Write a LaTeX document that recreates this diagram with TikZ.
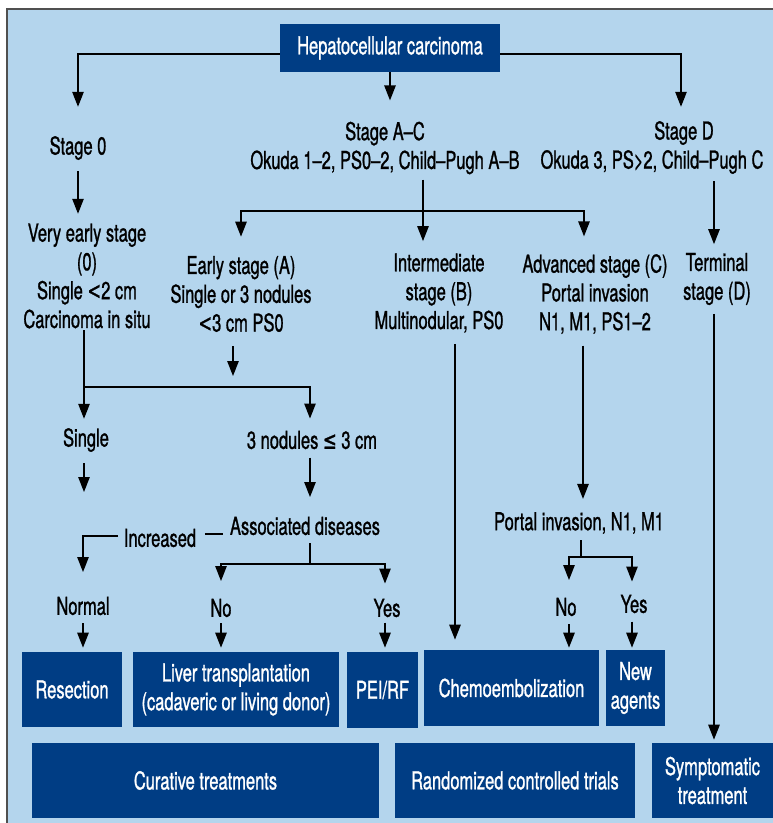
\documentclass[tikz,border=0pt]{standalone}
\usepackage{fontspec}
\setmainfont[FakeStretch=0.67,FakeBold=1]{TeX Gyre Heros}
\newfontfamily\symfont[FakeStretch=0.67,FakeBold=1]{DejaVu Sans}
\usetikzlibrary{arrows.meta}
\definecolor{panelblue}{RGB}{180,213,237}
\definecolor{boxblue}{RGB}{0,61,132}
\definecolor{framegray}{RGB}{80,80,80}
\begin{document}
\begin{tikzpicture}[x=0.02cm, y=-0.02cm, font=\fontsize{14}{16.4}\selectfont,
    lbl/.style={inner sep=0pt, align=center},
    box/.style={fill=boxblue, text=white, inner sep=0pt, align=center},
    arr/.style={line width=0.75pt, -{Triangle[width=6.5pt,length=8.5pt]}},
    link/.style={line width=0.75pt}]
    \useasboundingbox (0,0) rectangle (773,823);
    \fill[panelblue] (7,9) rectangle (773,823);
    \draw[framegray, line width=1.2pt] (7,823) -- (7,9) -- (773,9);

    \node[box, minimum width=4.4cm, minimum height=0.96cm] (hcc) at (390,48) {Hepatocellular carcinoma};
    \node[lbl] (stage0) at (78,148) {Stage 0};
    \node[lbl] (stageac) at (385,148) {Stage A–C\\Okuda 1–2, PS0–2, Child–Pugh A–B};
    \node[lbl] (stageD) at (684,133) {Stage D};
    \node[lbl] (stageDinfo) at (652,162) {Okuda 3, PS>2, Child–Pugh C};
    \node[lbl] (vearly) at (87,276) {Very early stage\\(0)\\Single {\symfont <}2 cm\\Carcinoma in situ};
    \node[lbl] (early) at (241,294) {Early stage (A)\\Single or 3 nodules\\{\symfont <}3 cm PS0};
    \node[lbl] (interm) at (439,293) {Intermediate\\stage (B)\\Multinodular, PS0};
    \node[lbl] (adv) at (595,294) {Advanced stage (C)\\Portal invasion\\N1, M1, PS1–2};
    \node[lbl] (term) at (717,279) {Terminal\\stage (D)};
    \node[lbl] (single) at (86,440) {Single};
    \node[lbl] (three) at (312,440) {3 nodules {\symfont ≤} 3 cm};
    \node[lbl] (assoc) at (305,526) {Associated diseases};
    \node[lbl] (incr) at (160,538) {Increased};
    \node[lbl] (normal) at (83,606) {Normal};
    \node[lbl] (no1) at (221,608) {No};
    \node[lbl] (yes1) at (387,608) {Yes};
    \node[lbl] (portal) at (579,523) {Portal invasion, N1, M1};
    \node[lbl] (no2) at (566,607) {No};
    \node[lbl] (yes2) at (634,604) {Yes};

    \node[box, minimum width=2cm, minimum height=1.5cm] (resect) at (72,689.5) {Resection};
    \node[box, minimum width=4.12cm, minimum height=1.5cm] (liver) at (236,689.5) {Liver transplantation\\(cadaveric or living donor)};
    \node[box, minimum width=1.42cm, minimum height=1.52cm] (pei) at (382.5,690) {PEI/RF};
    \node[box, minimum width=3.5cm, minimum height=1.52cm] (chemo) at (511.5,688) {Chemoembolization};
    \node[box, minimum width=1.18cm, minimum height=1.52cm] (newag) at (635.5,688) {New\\agents};
    \node[box, minimum width=6.94cm, minimum height=1.5cm] (cur) at (205.5,780.5) {Curative treatments};
    \node[box, minimum width=4.8cm, minimum height=1.5cm] (rct) at (515,780.5) {Randomized controlled trials};
    \node[box, minimum width=2.42cm, minimum height=1.5cm] (sympt) at (712.5,780.5) {Symptomatic\\treatment};

    \coordinate (acfork) at (423,211);
    \coordinate (vefork) at (84,387);
    \coordinate (earlyend) at (233,376);
    \coordinate (singleend) at (84,492);
    \coordinate (asfork) at (310,564);
    \coordinate (pofork) at (581,557);

    \draw[arr, shorten >=0.58cm] ([yshift=-0.12cm]hcc.west) -| (stage0.north);
    \draw[arr, shorten >=0.28cm] ([yshift=-0.12cm]hcc.east) -| ([xshift=-0.06cm]stageD.north);
    \draw[arr, shorten >=0.42cm] (hcc.south) -- (hcc.south |- stageac.north);
    \draw[arr, shorten <=0.22cm, shorten >=0.19cm] (stage0.south) -- (stage0.south |- vearly.north);
    \draw[arr, shorten <=0.1cm, shorten >=0.24cm] (stageac.south -| acfork) -- (acfork |- interm.north);
    \draw[arr, shorten >=0.38cm] (acfork) -| (early.north);
    \draw[arr, shorten >=0.35cm] (acfork) -| ([xshift=-0.22cm]adv.north);
    \draw[arr, shorten <=0.14cm, shorten >=0.17cm] ([xshift=-0.06cm]term.north |- stageDinfo.south) -- ([xshift=-0.06cm]term.north);
    \draw[arr, shorten <=0.03cm, shorten >=0.18cm] (vearly.south -| vefork) -- (vefork |- single.north);
    \draw[arr, shorten >=0.24cm] (vefork) -| ([xshift=-0.04cm]three.north);
    \draw[arr, shorten <=0.28cm] (early.south -| earlyend) -- (earlyend);
    \draw[arr, shorten <=0.22cm] (single.south -| singleend) -- (singleend);
    \draw[arr, shorten <=0.16cm, shorten >=0.39cm] ([xshift=-0.04cm]three.south) -- ([xshift=-0.04cm]three.south |- assoc.north);
    \draw[link, shorten <=0.17cm, shorten >=0.14cm] ([yshift=0.08cm]incr.east) -- ([yshift=0.08cm]incr.east -| assoc.west);
    \draw[arr, shorten <=0.11cm, shorten >=0.49cm] ([yshift=0.04cm]incr.west) -| (normal.north);
    \draw[link, shorten <=0.15cm] (assoc.south -| asfork) -- (asfork);
    \draw[arr, shorten >=0.35cm] (asfork) -| (no1.north);
    \draw[arr, shorten >=0.3cm] (asfork) -| ([xshift=-0.04cm]yes1.north);
    \draw[arr, shorten <=0.15cm, shorten >=0.08cm] (normal.south) -- (normal.south |- resect.north);
    \draw[arr, shorten <=0.11cm, shorten >=0.08cm] (no1.south) -- (no1.south |- liver.north);
    \draw[arr, shorten <=0.1cm, shorten >=0.08cm] ([xshift=-0.04cm]yes1.south) -- ([xshift=-0.04cm]yes1.south |- pei.north);
    \draw[arr, shorten <=0.22cm, shorten >=0.2cm] ([xshift=0.32cm]interm.south) -- ([xshift=0.32cm]interm.south |- chemo.north);
    \draw[arr, shorten <=0.23cm, shorten >=0.26cm] ([xshift=-0.24cm]adv.south) -- ([xshift=-0.24cm]adv.south |- portal.north);
    \draw[link, shorten <=0.12cm] (portal.south -| pofork) -- (pofork);
    \draw[arr, shorten >=0.35cm] (pofork) -| ([xshift=0.06cm]no2.north);
    \draw[arr, shorten >=0.26cm] (pofork) -| ([xshift=-0.04cm]yes2.north);
    \draw[arr, shorten <=0.15cm, shorten >=0.04cm] ([xshift=0.06cm]no2.south) -- ([xshift=0.06cm]no2.south |- chemo.north);
    \draw[arr, shorten <=0.16cm, shorten >=0.04cm] ([xshift=-0.04cm]yes2.south) -- ([xshift=-0.04cm]yes2.south |- newag.north);
    \draw[arr, shorten <=0.17cm, shorten >=0.06cm] ([xshift=-0.06cm]term.south) -- ([xshift=-0.06cm]term.south |- sympt.north);
\end{tikzpicture}
\end{document}
